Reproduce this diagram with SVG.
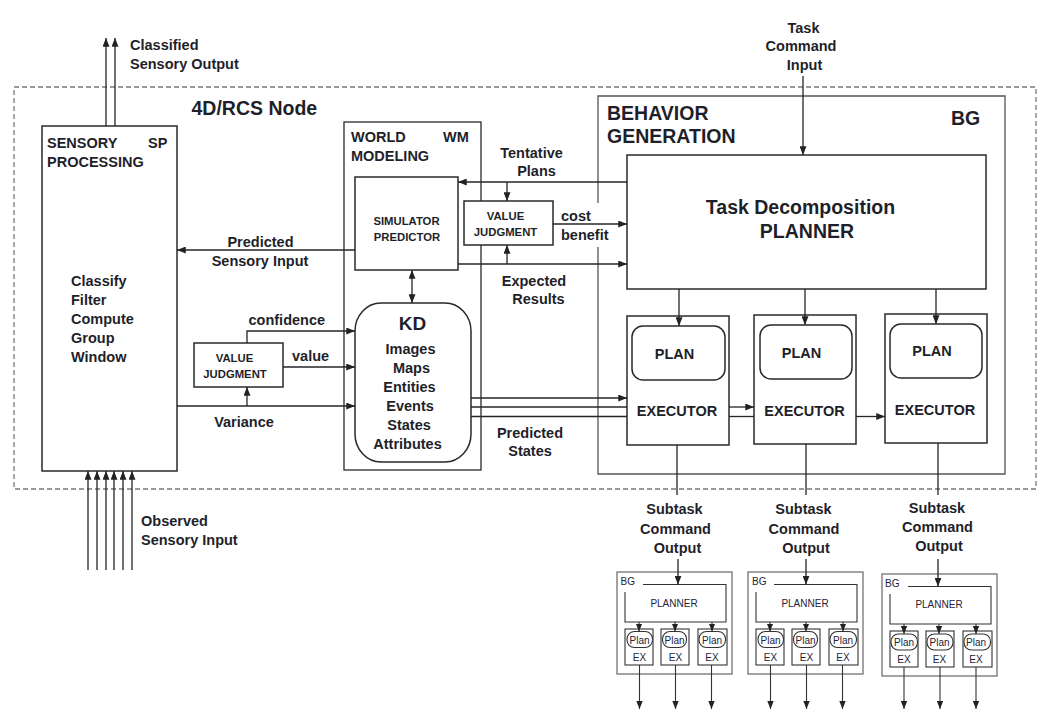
<svg xmlns="http://www.w3.org/2000/svg" width="1053" height="728" viewBox="0 0 1053 728">
<defs>
<style>
.t{font-family:"Liberation Sans",Arial,Helvetica,sans-serif;font-weight:bold;fill:#1f1f2a}
.r{font-family:"Liberation Sans",Arial,Helvetica,sans-serif;font-weight:normal;fill:#23233a;font-size:10px}
.m{text-anchor:middle}
.f14{font-size:14.5px}
.f19{font-size:19.5px}
.f11{font-size:11.3px}
.box{fill:#fff;stroke:#2a2a2a;stroke-width:1.5}
.gbox{fill:none;stroke:#555;stroke-width:1.3}
.sbox{fill:#fff;stroke:#666;stroke-width:1.2}
.sin{fill:#fff;stroke:#333;stroke-width:1.1}
.ln{fill:none;stroke:#262626;stroke-width:1.3}
.sln{fill:none;stroke:#333;stroke-width:1.1}
.arr{marker-end:url(#ah)}
.sarr{marker-end:url(#sah)}
</style>
<marker id="ah" viewBox="0 0 10 8" refX="10" refY="4" markerWidth="9" markerHeight="7" markerUnits="userSpaceOnUse" orient="auto-start-reverse"><path d="M0,0 L10,4 L0,8 z" fill="#222"/></marker>
<marker id="sah" viewBox="0 0 10 8" refX="10" refY="4" markerWidth="8" markerHeight="7" markerUnits="userSpaceOnUse" orient="auto"><path d="M0,0 L10,4 L0,8 z" fill="#222"/></marker>
</defs>
<rect width="1053" height="728" fill="#fff"/>

<g id="rcs-node">
<rect x="14" y="87" width="1022" height="402" fill="none" stroke="#7a7a7a" stroke-width="1.3" stroke-dasharray="5,3"/>
<text class="t f19" x="191.5" y="115">4D/RCS Node</text>
</g>

<g id="behavior-generation">
<path class="gbox" d="M598,203 V96 H1005 V474 H598 V247"/>
<text class="t f19" x="607" y="119.5">BEHAVIOR</text>
<text class="t f19" x="607" y="143">GENERATION</text>
<text class="t f19" x="951" y="125">BG</text>
</g>

<g id="sensory-processing">
<rect class="box" x="42" y="126" width="135" height="345"/>
<text class="t f14" x="47" y="147.5">SENSORY</text>
<text class="t f14" x="148" y="147.5">SP</text>
<text class="t f14" x="47" y="166.5">PROCESSING</text>
<text class="t f14" x="71" y="286">Classify</text>
<text class="t f14" x="71" y="305">Filter</text>
<text class="t f14" x="71" y="324">Compute</text>
<text class="t f14" x="71" y="343">Group</text>
<text class="t f14" x="71" y="362">Window</text>
</g>

<g id="world-modeling">
<rect x="344" y="122" width="137" height="348" fill="none" stroke="#2a2a2a" stroke-width="1.3"/>
<text class="t f14" x="351" y="141.5">WORLD</text>
<text class="t f14" x="443" y="141.5">WM</text>
<text class="t f14" x="351" y="160.5">MODELING</text>
</g>

<g id="simulator-predictor">
<rect class="box" x="355" y="177" width="103" height="93"/>
<text class="t f11 m" x="406.5" y="225">SIMULATOR</text>
<text class="t f11 m" x="407" y="241">PREDICTOR</text>
</g>

<g id="value-judgment-wm">
<rect class="box" x="464" y="201" width="89" height="44"/>
<text class="t f11 m" x="505.5" y="220">VALUE</text>
<text class="t f11 m" x="505.5" y="236">JUDGMENT</text>
</g>

<g id="kd">
<rect class="box" x="355" y="303" width="116" height="159" rx="26" ry="28"/>
<text class="t m" style="font-size:19px" x="412.5" y="329.5">KD</text>
<text class="t f14 m" x="410.5" y="354">Images</text>
<text class="t f14 m" x="411.5" y="373">Maps</text>
<text class="t f14 m" x="409.5" y="392">Entities</text>
<text class="t f14 m" x="410" y="411">Events</text>
<text class="t f14 m" x="409" y="430">States</text>
<text class="t f14 m" x="407.5" y="449">Attributes</text>
</g>

<g id="value-judgment-sp">
<rect class="box" x="194" y="343" width="89" height="44"/>
<text class="t f11 m" x="234.5" y="361.5">VALUE</text>
<text class="t f11 m" x="235" y="377.5">JUDGMENT</text>
</g>

<g id="planner">
<rect class="box" x="627" y="155" width="359" height="134"/>
<text class="t f19 m" x="800.5" y="214">Task Decomposition</text>
<text class="t f19 m" x="807" y="238">PLANNER</text>
</g>

<g id="executor-1">
<rect class="box" x="627" y="316" width="102" height="129"/>
<rect class="box" x="632" y="326" width="93" height="54" rx="11"/>
<text class="t f14 m" x="674.5" y="358.5">PLAN</text>
<text class="t f14 m" x="677" y="416">EXECUTOR</text>
</g>
<g id="executor-2">
<rect class="box" x="754" y="315" width="102" height="129"/>
<rect class="box" x="760" y="325" width="92" height="54" rx="11"/>
<text class="t f14 m" x="801.5" y="357.5">PLAN</text>
<text class="t f14 m" x="804.5" y="415.5">EXECUTOR</text>
</g>
<g id="executor-3">
<rect class="box" x="885" y="314" width="102" height="129"/>
<rect class="box" x="890" y="324" width="92" height="54" rx="11"/>
<text class="t f14 m" x="932" y="356">PLAN</text>
<text class="t f14 m" x="935" y="415">EXECUTOR</text>
</g>

<g id="sub-bg-1">
<rect class="sbox" x="617" y="572" width="115" height="102"/>
<text class="r" x="620.5" y="585">BG</text>
<path class="sln" d="M643,584.5 H726 V622 H625 V592"/>
<text class="r m" x="674" y="607">PLANNER</text>
<rect class="sin" x="625" y="629" width="28" height="36"/>
<rect class="sin" x="661" y="629" width="28" height="36"/>
<rect class="sin" x="698" y="629" width="29" height="36"/>
<rect class="sin" x="627" y="631.5" width="25.5" height="16" rx="7.5"/>
<rect class="sin" x="662.5" y="631.5" width="24" height="16" rx="7.5"/>
<rect class="sin" x="699" y="631.5" width="26.5" height="16" rx="7.5"/>
<text class="r m" x="639.5" y="643.5">Plan</text>
<text class="r m" x="674.5" y="643.5">Plan</text>
<text class="r m" x="712" y="643.5">Plan</text>
<text class="r m" x="639.5" y="661">EX</text>
<text class="r m" x="675.5" y="661">EX</text>
<text class="r m" x="712" y="661">EX</text>
</g>
<g id="sub-bg-2" transform="translate(131,0)">
<rect class="sbox" x="617" y="572" width="115" height="102"/>
<text class="r" x="621" y="585">BG</text>
<path class="sln" d="M643,584.5 H726 V622 H625 V592"/>
<text class="r m" x="674" y="607">PLANNER</text>
<rect class="sin" x="625" y="629" width="28" height="36"/>
<rect class="sin" x="661" y="629" width="28" height="36"/>
<rect class="sin" x="698" y="629" width="29" height="36"/>
<rect class="sin" x="627" y="631.5" width="25.5" height="16" rx="7.5"/>
<rect class="sin" x="662.5" y="631.5" width="24" height="16" rx="7.5"/>
<rect class="sin" x="699" y="631.5" width="26.5" height="16" rx="7.5"/>
<text class="r m" x="639.5" y="643.5">Plan</text>
<text class="r m" x="674.5" y="643.5">Plan</text>
<text class="r m" x="712" y="643.5">Plan</text>
<text class="r m" x="639.5" y="661">EX</text>
<text class="r m" x="675.5" y="661">EX</text>
<text class="r m" x="712" y="661">EX</text>
</g>
<g id="sub-bg-3" transform="translate(265,2)">
<rect class="sbox" x="617" y="572" width="115" height="102"/>
<text class="r" x="620" y="585">BG</text>
<path class="sln" d="M643,584.5 H726 V622 H625 V592"/>
<text class="r m" x="674" y="605.5">PLANNER</text>
<rect class="sin" x="625" y="629" width="28" height="36"/>
<rect class="sin" x="661" y="629" width="28" height="36"/>
<rect class="sin" x="698" y="629" width="29" height="36"/>
<rect class="sin" x="626" y="632" width="26.5" height="16" rx="7.5"/>
<rect class="sin" x="662" y="632" width="26" height="16" rx="7.5"/>
<rect class="sin" x="699" y="632" width="26.5" height="16" rx="7.5"/>
<text class="r m" x="639" y="644">Plan</text>
<text class="r m" x="674.5" y="644">Plan</text>
<text class="r m" x="711" y="644">Plan</text>
<text class="r m" x="639" y="661">EX</text>
<text class="r m" x="674.5" y="661">EX</text>
<text class="r m" x="711" y="661">EX</text>
</g>

<g id="connectors">
<!-- classified sensory output -->
<line class="ln arr" x1="106" y1="126" x2="106" y2="38"/>
<line class="ln arr" x1="115" y1="126" x2="115" y2="38"/>
<!-- observed sensory input -->
<line class="ln arr" x1="88" y1="570" x2="88" y2="471"/>
<line class="ln arr" x1="97" y1="570" x2="97" y2="471"/>
<line class="ln arr" x1="106" y1="570" x2="106" y2="471"/>
<line class="ln arr" x1="114" y1="570" x2="114" y2="471"/>
<line class="ln arr" x1="123" y1="570" x2="123" y2="471"/>
<line class="ln arr" x1="132" y1="570" x2="132" y2="471"/>
<!-- predicted sensory input -->
<line class="ln arr" x1="355" y1="250" x2="177" y2="250"/>
<!-- tentative plans -->
<line class="ln arr" x1="627" y1="182" x2="458" y2="182"/>
<line class="ln arr" x1="507" y1="182" x2="507" y2="201"/>
<!-- cost benefit -->
<line class="ln arr" x1="553" y1="224" x2="627" y2="224"/>
<!-- expected results -->
<line class="ln arr" x1="458" y1="264" x2="627" y2="264"/>
<line class="ln arr" x1="507" y1="264" x2="507" y2="245"/>
<!-- sim <-> KD -->
<line class="ln arr" x1="412" y1="270" x2="412" y2="303" style="marker-start:url(#ah)"/>
<!-- confidence / value / variance -->
<polyline class="ln arr" points="247,343 247,331 355,331"/>
<line class="ln arr" x1="283" y1="367" x2="355" y2="367"/>
<line class="ln arr" x1="177" y1="406" x2="355" y2="406"/>
<line class="ln arr" x1="247" y1="406" x2="247" y2="387"/>
<!-- predicted states -->
<line class="ln arr" x1="471" y1="398" x2="627" y2="398"/>
<line class="ln" x1="471" y1="407" x2="627" y2="407"/>
<line class="ln" x1="471" y1="416.5" x2="627" y2="416.5"/>
<line class="ln arr" x1="729" y1="407" x2="754" y2="407"/>
<line class="ln" x1="729" y1="416.5" x2="754" y2="416.5"/>
<line class="ln arr" x1="856" y1="416.5" x2="885" y2="416.5"/>
<!-- task command input -->
<line class="ln arr" x1="803" y1="76" x2="803" y2="155"/>
<!-- planner to plans -->
<line class="ln arr" x1="679" y1="289" x2="679" y2="326"/>
<line class="ln arr" x1="805" y1="289" x2="805" y2="325"/>
<line class="ln arr" x1="936" y1="289" x2="936" y2="324"/>
<!-- executor outputs -->
<line class="ln" x1="677" y1="445" x2="677" y2="495"/>
<line class="ln" x1="806" y1="444" x2="806" y2="495"/>
<line class="ln" x1="938" y1="443" x2="938" y2="495"/>
<line class="ln arr" x1="678" y1="559" x2="678" y2="584.5"/>
<line class="ln arr" x1="806" y1="559" x2="806" y2="584.5"/>
<line class="ln arr" x1="938" y1="559" x2="938" y2="586.5"/>
<!-- sub BG internal -->
<g id="sub-conn-1">
<line class="sln sarr" x1="639" y1="622" x2="639" y2="631.5"/>
<line class="sln sarr" x1="675" y1="622" x2="675" y2="631.5"/>
<line class="sln sarr" x1="712" y1="622" x2="712" y2="631.5"/>
<line class="sln sarr" x1="639.5" y1="665" x2="639.5" y2="709"/>
<line class="sln sarr" x1="675.5" y1="665" x2="675.5" y2="709"/>
<line class="sln sarr" x1="711.5" y1="665" x2="711.5" y2="709"/>
</g>
<g id="sub-conn-2" transform="translate(131,0)">
<line class="sln sarr" x1="639" y1="622" x2="639" y2="631.5"/>
<line class="sln sarr" x1="675" y1="622" x2="675" y2="631.5"/>
<line class="sln sarr" x1="712" y1="622" x2="712" y2="631.5"/>
<line class="sln sarr" x1="639.5" y1="665" x2="639.5" y2="709"/>
<line class="sln sarr" x1="675.5" y1="665" x2="675.5" y2="709"/>
<line class="sln sarr" x1="711.5" y1="665" x2="711.5" y2="709"/>
</g>
<g id="sub-conn-3" transform="translate(265,2)">
<line class="sln sarr" x1="639" y1="622" x2="639" y2="632"/>
<line class="sln sarr" x1="674" y1="622" x2="674" y2="632"/>
<line class="sln sarr" x1="711" y1="622" x2="711" y2="632"/>
<line class="sln sarr" x1="639" y1="665" x2="639" y2="707"/>
<line class="sln sarr" x1="675" y1="665" x2="675" y2="707"/>
<line class="sln sarr" x1="711" y1="665" x2="711" y2="707"/>
</g>
</g>

<g id="labels">
<text class="t f14" x="130" y="50">Classified</text>
<text class="t f14" x="130" y="69">Sensory Output</text>
<text class="t f14" x="141" y="525.5">Observed</text>
<text class="t f14" x="141" y="545">Sensory Input</text>
<text class="t f14 m" x="260.5" y="246.5">Predicted</text>
<text class="t f14 m" x="260" y="265.5">Sensory Input</text>
<text class="t f14 m" x="531.5" y="157.5">Tentative</text>
<text class="t f14 m" x="536.5" y="176">Plans</text>
<text class="t f14" x="561" y="220.5">cost</text>
<text class="t f14" x="561" y="239.5">benefit</text>
<text class="t f14 m" x="534" y="285.5">Expected</text>
<text class="t f14 m" x="538.5" y="304">Results</text>
<text class="t f14" x="248.5" y="325">confidence</text>
<text class="t f14" x="292" y="360.5">value</text>
<text class="t f14 m" x="244" y="426.5">Variance</text>
<text class="t f14 m" x="530" y="437.5">Predicted</text>
<text class="t f14 m" x="530" y="456">States</text>
<text class="t f14 m" x="803.5" y="32.5">Task</text>
<text class="t f14 m" x="801" y="51">Command</text>
<text class="t f14 m" x="804.5" y="70">Input</text>
<text class="t f14 m" x="674.5" y="514">Subtask</text>
<text class="t f14 m" x="675.5" y="533.5">Command</text>
<text class="t f14 m" x="677.5" y="552.5">Output</text>
<text class="t f14 m" x="803.5" y="514">Subtask</text>
<text class="t f14 m" x="804" y="533.5">Command</text>
<text class="t f14 m" x="806" y="552.5">Output</text>
<text class="t f14 m" x="937" y="512.5">Subtask</text>
<text class="t f14 m" x="937.5" y="532">Command</text>
<text class="t f14 m" x="939" y="551">Output</text>
</g>
</svg>
